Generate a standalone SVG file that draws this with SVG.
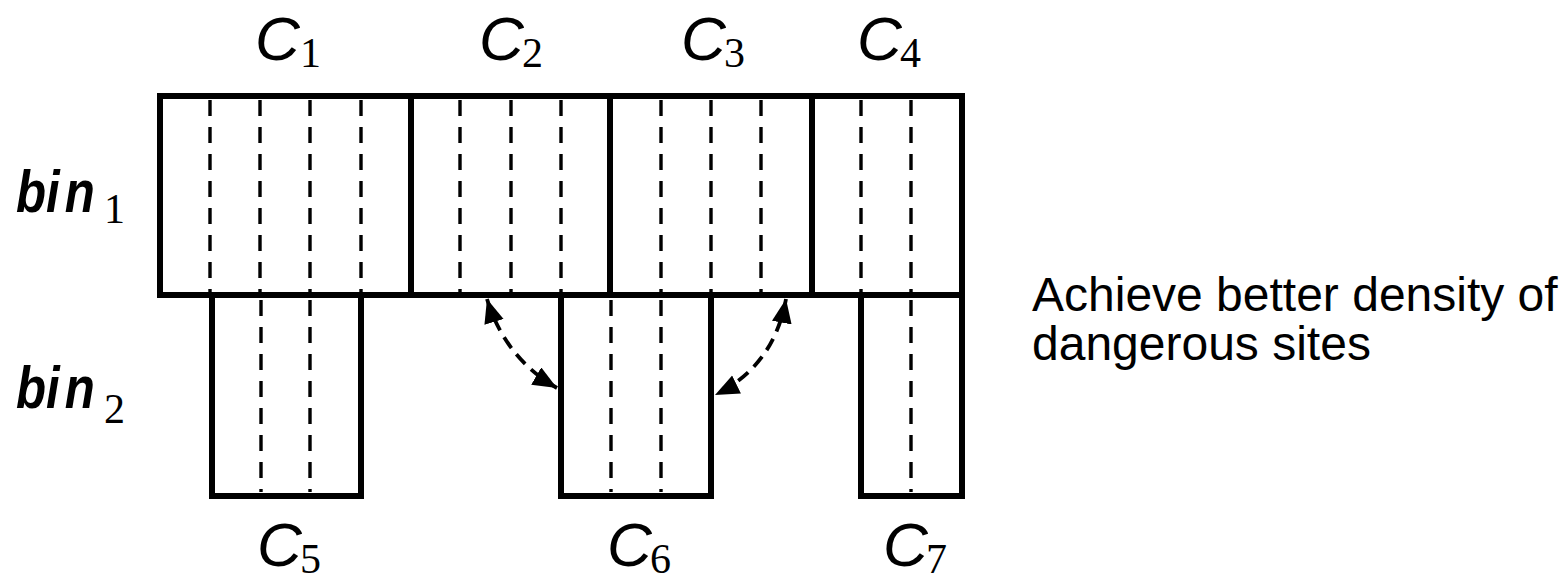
<svg xmlns="http://www.w3.org/2000/svg" width="1567" height="576" viewBox="0 0 1567 576">
<defs>
<style>
.box{fill:none;stroke:#000;stroke-width:6;stroke-linejoin:miter}
.dash{stroke:#000;stroke-width:3.4;stroke-dasharray:16 11;fill:none}
.conn{fill:none;stroke:#000;stroke-width:3.8;stroke-dasharray:13 8}
.cl{font-family:"Liberation Sans",Arial,sans-serif;font-style:italic;font-size:62px;fill:#000}
.sub{font-family:"Liberation Serif","Times New Roman",serif;font-size:42px;fill:#000}
.bin{font-family:"Liberation Sans",Arial,sans-serif;font-style:italic;font-weight:bold;font-size:60px;fill:#000}
.note{font-family:"Liberation Sans",Arial,sans-serif;font-size:48px;fill:#000}
</style>
<marker id="ah" markerUnits="userSpaceOnUse" markerWidth="26" markerHeight="22" refX="24" refY="10" orient="auto-start-reverse">
<path d="M0,0 L24,10 L0,20 Z" fill="#000"/>
</marker>
</defs>
<rect width="1567" height="576" fill="#fff"/>

<g id="C1">
<rect class="box" x="160" y="96" width="251" height="199"/>
<path class="dash" d="M210,100V292M260,100V292M310,100V292M361,100V292"/>
<text class="cl" x="255" y="60">C</text><text class="sub" x="300" y="67">1</text>
</g>
<g id="C2">
<rect class="box" x="411" y="96" width="199" height="199"/>
<path class="dash" d="M460,100V292M511,100V292M561,100V292"/>
<text class="cl" x="479" y="60">C</text><text class="sub" x="522" y="67">2</text>
</g>
<g id="C3">
<rect class="box" x="610" y="96" width="202" height="199"/>
<path class="dash" d="M661,100V292M711,100V292M761,100V292"/>
<text class="cl" x="681" y="60">C</text><text class="sub" x="724" y="67">3</text>
</g>
<g id="C4">
<rect class="box" x="812" y="96" width="150" height="199"/>
<path class="dash" d="M861,100V292M911,100V292"/>
<text class="cl" x="857" y="60">C</text><text class="sub" x="900" y="67">4</text>
</g>
<g id="C5">
<rect class="box" x="212" y="295" width="149" height="201"/>
<path class="dash" d="M261,300V492M310,300V492"/>
<text class="cl" x="257" y="566">C</text><text class="sub" x="300" y="573">5</text>
</g>
<g id="C6">
<rect class="box" x="561" y="295" width="150" height="201"/>
<path class="dash" d="M611,300V492M661,300V492"/>
<text class="cl" x="607" y="566">C</text><text class="sub" x="650" y="573">6</text>
</g>
<g id="C7">
<rect class="box" x="861" y="295" width="101" height="201"/>
<path class="dash" d="M911,300V492"/>
<text class="cl" x="883" y="566">C</text><text class="sub" x="926" y="573">7</text>
</g>

<g id="bin1">
<text class="bin" transform="translate(16,212) scale(0.82,1)">bi<tspan dx="6">n</tspan></text>
<text class="sub" x="104" y="223">1</text>
</g>
<g id="bin2">
<text class="bin" transform="translate(16,408) scale(0.82,1)">bi<tspan dx="6">n</tspan></text>
<text class="sub" x="104" y="423">2</text>
</g>

<g id="note">
<text class="note" x="1032" y="311">Achieve better density of</text>
<text class="note" x="1032" y="360">dangerous sites</text>
</g>

<g id="connectors">
<path class="conn" d="M487,299 Q505,358 557,388" marker-start="url(#ah)" marker-end="url(#ah)"/>
<path class="conn" d="M786,299 Q774,366 715,395" marker-start="url(#ah)" marker-end="url(#ah)"/>
</g>
</svg>
